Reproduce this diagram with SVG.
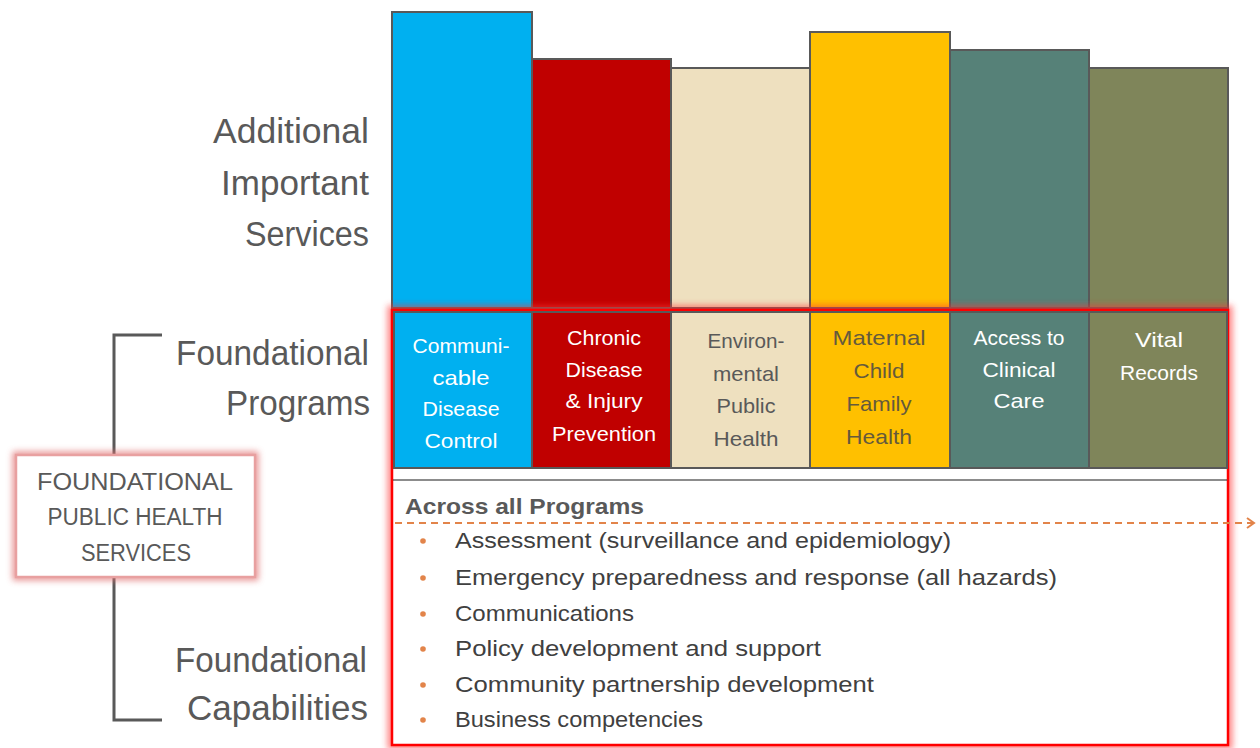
<svg xmlns="http://www.w3.org/2000/svg" width="1260" height="748" viewBox="0 0 1260 748">
<style>
.lbl{font-family:"Liberation Sans",Arial,sans-serif;font-size:35px;fill:#595959;text-anchor:end}
.box{font-family:"Liberation Sans",Arial,sans-serif;font-size:23px;fill:#595959;text-anchor:middle}
.pg{font-family:"Liberation Sans",Arial,sans-serif;font-size:21px;text-anchor:middle}
.w{fill:#ffffff}
.g{fill:#595959}
.y{fill:#655a3c}
.col{stroke:#595959;stroke-width:2}
.li{font-family:"Liberation Sans",Arial,sans-serif;font-size:22px;fill:#404040}
.hd{font-family:"Liberation Sans",Arial,sans-serif;font-size:22px;font-weight:bold;fill:#595959}
.bul{fill:#E2844A}
</style>
<defs>
<filter id="glow" x="-10%" y="-10%" width="120%" height="120%"><feGaussianBlur stdDeviation="3"/></filter>
<marker id="chev" markerWidth="12" markerHeight="12" refX="9" refY="6" orient="auto" markerUnits="userSpaceOnUse"><path d="M2,1 L9,6 L2,11" fill="none" stroke="#E2844A" stroke-width="2"/></marker>
</defs>
<rect width="1260" height="748" fill="#ffffff"/>

<!-- Additional services columns -->
<g id="additional-columns">
<rect class="col" x="392" y="12" width="140" height="296" fill="#00B0F0"/>
<rect class="col" x="532" y="59" width="139" height="249" fill="#C00000"/>
<rect class="col" x="671" y="68" width="139" height="240" fill="#EEE0BF"/>
<rect class="col" x="810" y="32" width="140" height="276" fill="#FFC000"/>
<rect class="col" x="950" y="50" width="139" height="258" fill="#568178"/>
<rect class="col" x="1089" y="68" width="139" height="240" fill="#7F855A"/>
</g>

<!-- Left labels -->
<g id="label-additional">
<text class="lbl" x="369" y="143" textLength="156" lengthAdjust="spacingAndGlyphs">Additional</text>
<text class="lbl" x="369" y="195" textLength="148" lengthAdjust="spacingAndGlyphs">Important</text>
<text class="lbl" x="369" y="246" textLength="124" lengthAdjust="spacingAndGlyphs">Services</text>
</g>
<g id="label-programs">
<text class="lbl" x="369" y="365" textLength="193" lengthAdjust="spacingAndGlyphs">Foundational</text>
<text class="lbl" x="370" y="415" textLength="144" lengthAdjust="spacingAndGlyphs">Programs</text>
</g>
<g id="label-capabilities">
<text class="lbl" x="367" y="672" textLength="192" lengthAdjust="spacingAndGlyphs">Foundational</text>
<text class="lbl" x="368" y="720" textLength="181" lengthAdjust="spacingAndGlyphs">Capabilities</text>
</g>

<!-- Connectors: bracket -->
<g id="connectors" fill="none" stroke="#595959" stroke-width="3">
<path d="M162,335 H114 V720 H162"/>
</g>

<!-- Central box -->
<g id="fphs-box">
<rect x="16" y="455" width="239" height="122" fill="none" stroke="#E07070" stroke-width="7" opacity="0.75" filter="url(#glow)"/>
<rect x="16" y="455" width="239" height="122" fill="#ffffff" stroke="#E8A0A0" stroke-width="2.5"/>
<text class="box" x="135" y="490" textLength="196" lengthAdjust="spacingAndGlyphs">FOUNDATIONAL</text>
<text class="box" x="135" y="525" textLength="175" lengthAdjust="spacingAndGlyphs">PUBLIC HEALTH</text>
<text class="box" x="136" y="561" textLength="110" lengthAdjust="spacingAndGlyphs">SERVICES</text>
</g>

<!-- Red highlighted frame -->
<g id="foundational-frame">
<rect x="392" y="310" width="836" height="435" fill="none" stroke="#FF3030" stroke-width="9" opacity="0.6" filter="url(#glow)"/>
<rect x="392" y="310" width="836" height="435" fill="#ffffff" stroke="#FF0000" stroke-width="2.5"/>
<line x1="393" y1="480" x2="1227" y2="480" stroke="#1a1a1a" stroke-width="1.2"/>
</g>

<!-- Program cells -->
<g id="prog-communicable">
<rect class="col" x="394" y="312" width="138" height="156" fill="#00B0F0"/>
<text class="pg w" x="461" y="353" textLength="97" lengthAdjust="spacingAndGlyphs">Communi-</text>
<text class="pg w" x="461" y="385" textLength="57" lengthAdjust="spacingAndGlyphs">cable</text>
<text class="pg w" x="461" y="416" textLength="77" lengthAdjust="spacingAndGlyphs">Disease</text>
<text class="pg w" x="461" y="448" textLength="73" lengthAdjust="spacingAndGlyphs">Control</text>
</g>
<g id="prog-chronic">
<rect class="col" x="532" y="312" width="139" height="156" fill="#C00000"/>
<text class="pg w" x="604" y="345" textLength="74" lengthAdjust="spacingAndGlyphs">Chronic</text>
<text class="pg w" x="604" y="377" textLength="77" lengthAdjust="spacingAndGlyphs">Disease</text>
<text class="pg w" x="604" y="408" textLength="77" lengthAdjust="spacingAndGlyphs">&amp; Injury</text>
<text class="pg w" x="604" y="441" textLength="104" lengthAdjust="spacingAndGlyphs">Prevention</text>
</g>
<g id="prog-environmental">
<rect class="col" x="671" y="312" width="139" height="156" fill="#EEE0BF"/>
<text class="pg g" x="746" y="348" textLength="77" lengthAdjust="spacingAndGlyphs">Environ-</text>
<text class="pg g" x="746" y="381" textLength="66" lengthAdjust="spacingAndGlyphs">mental</text>
<text class="pg g" x="746" y="413" textLength="59" lengthAdjust="spacingAndGlyphs">Public</text>
<text class="pg g" x="746" y="446" textLength="65" lengthAdjust="spacingAndGlyphs">Health</text>
</g>
<g id="prog-maternal">
<rect class="col" x="810" y="312" width="140" height="156" fill="#FFC000"/>
<text class="pg y" x="879" y="345" textLength="93" lengthAdjust="spacingAndGlyphs">Maternal</text>
<text class="pg y" x="879" y="378" textLength="51" lengthAdjust="spacingAndGlyphs">Child</text>
<text class="pg y" x="879" y="411" textLength="65" lengthAdjust="spacingAndGlyphs">Family</text>
<text class="pg y" x="879" y="444" textLength="66" lengthAdjust="spacingAndGlyphs">Health</text>
</g>
<g id="prog-clinical">
<rect class="col" x="950" y="312" width="139" height="156" fill="#568178"/>
<text class="pg w" x="1019" y="345" textLength="91" lengthAdjust="spacingAndGlyphs">Access to</text>
<text class="pg w" x="1019" y="377" textLength="73" lengthAdjust="spacingAndGlyphs">Clinical</text>
<text class="pg w" x="1019" y="408" textLength="51" lengthAdjust="spacingAndGlyphs">Care</text>
</g>
<g id="prog-vital">
<rect class="col" x="1089" y="312" width="138" height="156" fill="#7F855A"/>
<text class="pg w" x="1159" y="347" textLength="48" lengthAdjust="spacingAndGlyphs">Vital</text>
<text class="pg w" x="1159" y="380" textLength="78" lengthAdjust="spacingAndGlyphs">Records</text>
</g>

<!-- Capabilities list -->
<g id="capabilities">
<text class="hd" x="405" y="514" textLength="239" lengthAdjust="spacingAndGlyphs">Across all Programs</text>
<line x1="395" y1="523" x2="1254" y2="523" stroke="#E2844A" stroke-width="2" stroke-dasharray="7,5" marker-end="url(#chev)"/>
<circle class="bul" cx="423" cy="541" r="2.8"/>
<circle class="bul" cx="423" cy="578" r="2.8"/>
<circle class="bul" cx="423" cy="614" r="2.8"/>
<circle class="bul" cx="423" cy="649" r="2.8"/>
<circle class="bul" cx="423" cy="685" r="2.8"/>
<circle class="bul" cx="423" cy="720" r="2.8"/>
<text class="li" x="455" y="548" textLength="496" lengthAdjust="spacingAndGlyphs">Assessment (surveillance and epidemiology)</text>
<text class="li" x="455" y="585" textLength="602" lengthAdjust="spacingAndGlyphs">Emergency preparedness and response (all hazards)</text>
<text class="li" x="455" y="621" textLength="179" lengthAdjust="spacingAndGlyphs">Communications</text>
<text class="li" x="455" y="656" textLength="366" lengthAdjust="spacingAndGlyphs">Policy development and support</text>
<text class="li" x="455" y="692" textLength="419" lengthAdjust="spacingAndGlyphs">Community partnership development</text>
<text class="li" x="455" y="727" textLength="248" lengthAdjust="spacingAndGlyphs">Business competencies</text>
</g>
</svg>
